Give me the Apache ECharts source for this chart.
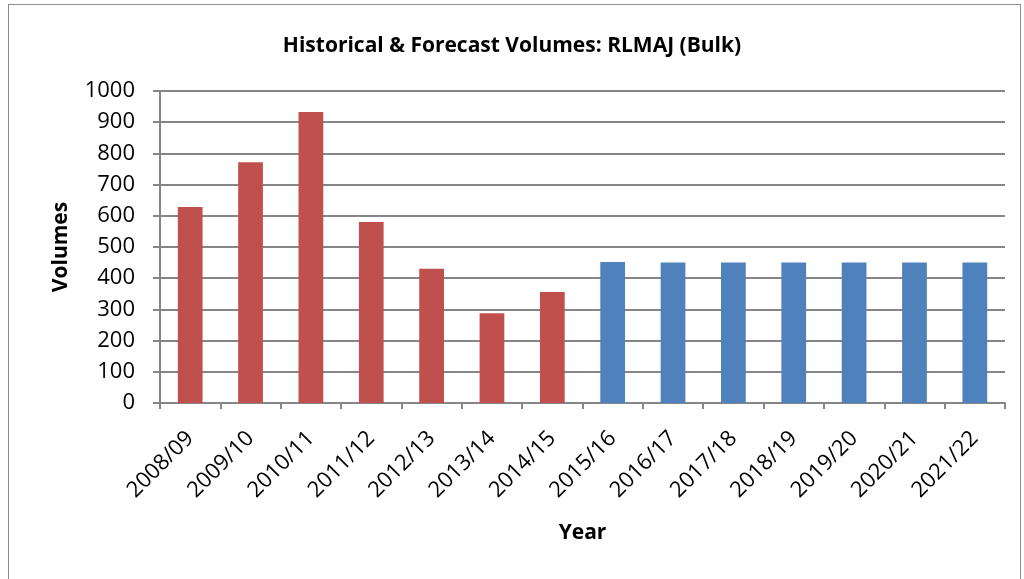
<!doctype html>
<html lang="en">
<head>
    <meta charset="UTF-8">
    <title>Historical & Forecast Volumes: RLMAJ (Bulk)</title>
    <style>
        html, body { margin: 0; padding: 0; background: #fff; }
        #frame { position: absolute; left: 8px; top: 4px; width: 1011px; height: 600px; border: 1px solid #8c8c8c; }
        #main { position: absolute; left: 0; top: 0; width: 1024px; height: 579px; }
    </style>
</head>
<body>
<div id="frame"></div>
<div id="main"></div>
<script src="https://cdn.jsdelivr.net/npm/echarts@6/dist/echarts.min.js"></script>
<script type="text/javascript">
    // 数据
    var years = ['2008/09','2009/10','2010/11','2011/12','2012/13','2013/14','2014/15',
                 '2015/16','2016/17','2017/18','2018/19','2019/20','2020/21','2021/22'];
    var historical = [628, 772, 933, 580, 430, 288, 356, '-', '-', '-', '-', '-', '-', '-'];
    var forecast = ['-', '-', '-', '-', '-', '-', '-', 452, 450, 450, 450, 450, 450, 450];
    var yTicks = [0, 100, 200, 300, 400, 500, 600, 700, 800, 900, 1000];

    var font = '"Open Sans", "Liberation Sans", sans-serif';
    var myChart = echarts.init(document.getElementById('main'));

    var option = {
        animation: false,
        title: {
            text: 'Historical & Forecast Volumes: RLMAJ (Bulk)',
            left: 'center',
            top: 31,
            textStyle: { fontFamily: font, fontSize: 21, fontWeight: 'bold', color: '#000' }
        },
        grid: { left: 160, right: 19, top: 91, bottom: 176 },
        xAxis: {
            type: 'category',
            data: years,
            name: 'Year',
            nameLocation: 'middle',
            nameGap: 120,
            nameTextStyle: { fontFamily: font, fontSize: 21, fontWeight: 'bold', color: '#000' },
            axisLine: { lineStyle: { color: '#868686', width: 2 } },
            axisTick: { show: true, length: 6, lineStyle: { color: '#868686', width: 2 } },
            axisLabel: { rotate: 45, fontFamily: font, fontSize: 22, color: '#000', margin: 32, interval: 0 }
        },
        yAxis: {
            type: 'value',
            min: yTicks[0],
            max: yTicks[yTicks.length - 1],
            interval: 100,
            name: 'Volumes',
            nameLocation: 'middle',
            nameGap: 88,
            nameTextStyle: { fontFamily: font, fontSize: 21, fontWeight: 'bold', color: '#000' },
            axisLine: { show: true, lineStyle: { color: '#868686', width: 2 } },
            axisTick: { show: true, length: 7, lineStyle: { color: '#868686', width: 2 } },
            axisLabel: { fontFamily: font, fontSize: 22, color: '#000', margin: 25,
                         formatter: function (v) { return String(v); } },
            splitLine: { lineStyle: { color: '#868686', width: 2 } }
        },
        series: [
            {
                name: 'Historical',
                type: 'bar',
                stack: 'v',
                barWidth: '41%',
                itemStyle: { color: '#c0504d' },
                data: historical
            },
            {
                name: 'Forecast',
                type: 'bar',
                stack: 'v',
                barWidth: '41%',
                itemStyle: { color: '#4f81bd' },
                data: forecast
            }
        ]
    };
    myChart.setOption(option);
</script>
</body>
</html>
